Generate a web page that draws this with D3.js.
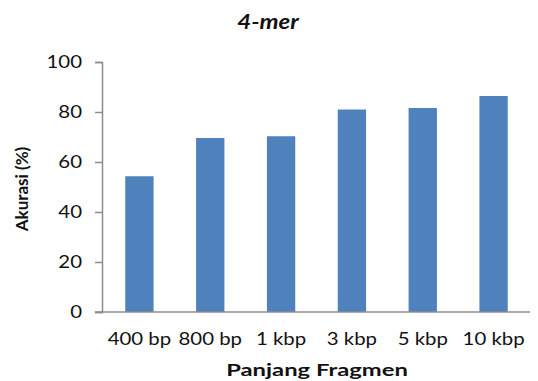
<!DOCTYPE html>
<html>
<head>
<meta charset="utf-8">
<script src="https://cdn.jsdelivr.net/npm/d3@7/dist/d3.min.js"></script>
<style>
  html, body { margin: 0; padding: 0; background: #fff; }
  svg { display: block; font-family: Lato, "Open Sans", sans-serif; }
</style>
</head>
<body>
<svg id="chart" width="538" height="381"></svg>
<script>
// Accuracy of 4-mer classification by fragment length
const categories = ["400 bp", "800 bp", "1 kbp", "3 kbp", "5 kbp", "10 kbp"];
const accuracy = [54.3, 69.6, 70.3, 81.0, 81.6, 86.4];
const yTicks = [0, 20, 40, 60, 80, 100];
const chartTitle = "4-mer";
const xTitle = "Panjang Fragmen";
const yTitle = "Akurasi (%)";

const svg = d3.select("#chart");
const axisColor = "#8c8c8c";
const barColor = "#4f81bd";
const stretch = 1.2; // horizontal text stretch

const plot = { left: 102, right: 530, top: 62, bottom: 312 };

const x = d3.scaleBand()
  .domain(categories)
  .range([104, 529])
  .paddingInner(0.6)
  .paddingOuter(0.3);

const y = d3.scaleLinear()
  .domain([0, 100])
  .range([plot.bottom, plot.top]);

// Bars
svg.append("g")
  .selectAll("rect")
  .data(categories.map((c, i) => ({ c, v: accuracy[i] })))
  .join("rect")
  .attr("x", d => x(d.c))
  .attr("y", d => y(d.v))
  .attr("width", x.bandwidth())
  .attr("height", d => y(0) - y(d.v))
  .attr("fill", barColor);

// Y axis
const yAxis = svg.append("g")
  .attr("transform", `translate(${plot.left},0)`)
  .call(d3.axisLeft(y).tickValues(yTicks).tickSize(7).tickFormat(d3.format("d")));
yAxis.select(".domain").attr("stroke", axisColor).attr("stroke-width", 1.5);
yAxis.selectAll(".tick line").attr("stroke", axisColor).attr("stroke-width", 1.5);
yAxis.selectAll(".tick text")
  .attr("x", 0)
  .attr("transform", `translate(-20,0) scale(${stretch},1)`)
  .attr("font-size", 17)
  .attr("font-family", "Lato, sans-serif")
  .attr("fill", "#111");

// X axis (labels only; baseline drawn separately)
const xAxis = svg.append("g")
  .attr("transform", `translate(0,${plot.bottom})`)
  .call(d3.axisBottom(x).tickSize(0).tickPadding(33));
xAxis.select(".domain").remove();
xAxis.selectAll(".tick text")
  .attr("dy", 0)
  .attr("transform", `scale(${stretch},1)`)
  .attr("font-size", 17)
  .attr("font-family", "Lato, sans-serif")
  .attr("fill", "#111");

svg.append("line")
  .attr("x1", plot.left - 7)
  .attr("x2", plot.right)
  .attr("y1", y(0))
  .attr("y2", y(0))
  .attr("stroke", axisColor)
  .attr("stroke-width", 1.5);

// Titles
svg.append("text")
  .attr("transform", `translate(268,29) scale(${stretch},1)`)
  .attr("text-anchor", "middle")
  .attr("font-size", 20)
  .attr("font-weight", "bold")
  .attr("font-style", "italic")
  .attr("fill", "#111")
  .text(chartTitle);

svg.append("text")
  .attr("transform", "translate(317,376) scale(1.4,1)")
  .attr("text-anchor", "middle")
  .attr("font-size", 17)
  .attr("font-weight", "bold")
  .attr("fill", "#111")
  .text(xTitle);

svg.append("text")
  .attr("transform", "translate(28,189) rotate(-90)")
  .attr("text-anchor", "middle")
  .attr("font-size", 17)
  .attr("font-weight", "bold")
  .attr("fill", "#111")
  .text(yTitle);
</script>
</body>
</html>
